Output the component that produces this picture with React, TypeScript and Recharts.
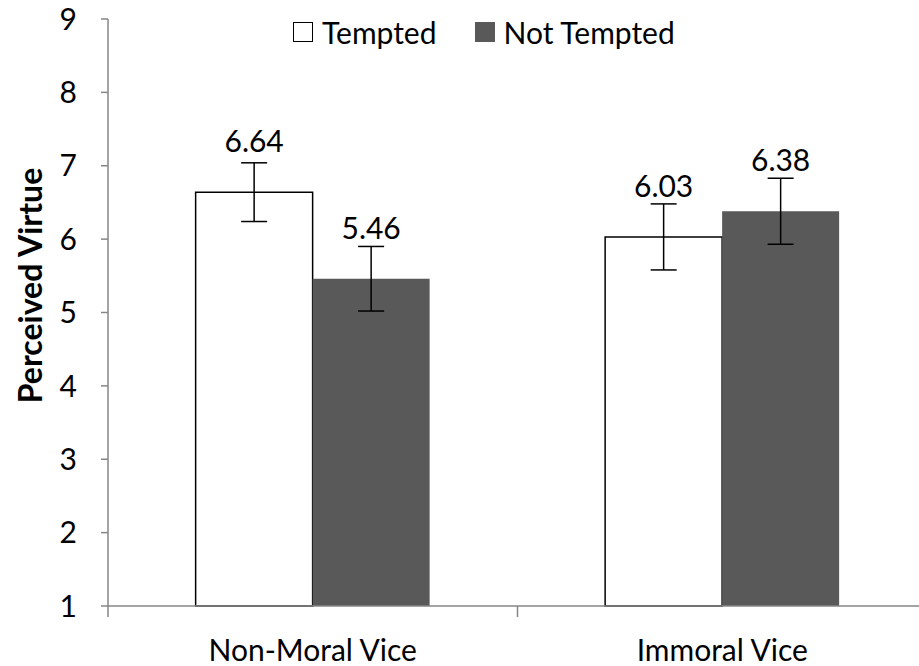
import React from 'react';
import {
  BarChart,
  Bar,
  XAxis,
  YAxis,
  Legend,
  ErrorBar,
  LabelList,
} from 'recharts';

const categories = ['Non-Moral Vice', 'Immoral Vice'];
const tempted = [6.64, 6.03];
const temptedErr = [0.4, 0.45];
const notTempted = [5.46, 6.38];
const notTemptedErr = [0.44, 0.45];
const yTicks = [1, 2, 3, 4, 5, 6, 7, 8, 9];
const seriesOrder = ['Tempted', 'Not Tempted'];

const data = categories.map((name, i) => ({
  name,
  tempted: tempted[i],
  temptedErr: temptedErr[i],
  notTempted: notTempted[i],
  notTemptedErr: notTemptedErr[i],
}));

const AXIS_GRAY = '#868686';
const FONT = 30;

const LegendContent = ({ payload }: any) => {
  const items = [...(payload || [])].sort(
    (a: any, b: any) => seriesOrder.indexOf(a.value) - seriesOrder.indexOf(b.value)
  );
  return (
    <div style={{ display: 'flex', alignItems: 'center', fontSize: FONT, lineHeight: 1 }}>
      {items.map((item: any, i: number) => {
        const outlined = item.value === 'Tempted';
        return (
          <div
            key={item.value}
            style={{ display: 'flex', alignItems: 'center', marginLeft: i === 0 ? 0 : 38 }}
          >
            <span
              style={{
                display: 'inline-block',
                width: 18,
                height: 18,
                background: outlined ? '#fff' : '#595959',
                border: outlined ? '1.5px solid #000' : '1.5px solid #595959',
                marginRight: 9,
              }}
            />
            <span>{item.value}</span>
          </div>
        );
      })}
    </div>
  );
};

// category tick: label in the middle, tick marks on the band edges (Excel style)
const CategoryTick = (props: any) => {
  const { x, y, payload, index, visibleTicksCount } = props;
  const half = payload && payload.offset ? payload.offset : 0;
  const top = y - 34;
  return (
    <g>
      <line x1={x - half} x2={x - half} y1={top} y2={top + 11} stroke={AXIS_GRAY} strokeWidth={1.5} />
      {index === visibleTicksCount - 1 && (
        <line x1={x + half} x2={x + half} y1={top} y2={top + 11} stroke={AXIS_GRAY} strokeWidth={1.5} />
      )}
      <text x={x} y={y} dy="0.71em" textAnchor="middle" fontSize={FONT} fill="#000">
        {payload.value}
      </text>
    </g>
  );
};

const YLabel = (props: any) => {
  const vb = props.viewBox || {};
  const x = vb.x + 29;
  const y = vb.y + vb.height / 2 - 27;
  return (
    <text
      x={x}
      y={y}
      transform={`rotate(-90, ${x}, ${y})`}
      textAnchor="middle"
      dominantBaseline="central"
      fontSize={32}
      fontWeight="bold"
      fill="#000"
    >
      Perceived Virtue
    </text>
  );
};

const App: React.FC = () => {
  return (
    <div
      style={{
        position: 'absolute',
        left: 0,
        top: 0,
        width: 919,
        height: 666,
        overflow: 'hidden',
        background: '#fff',
        fontFamily: 'Lato, sans-serif',
      }}
    >
      <BarChart
        width={940}
        height={666}
        data={data}
        margin={{ top: 19, right: 13, left: 0, bottom: 0 }}
        barCategoryGap="21.4%"
        barGap={0}
      >
        <XAxis
          dataKey="name"
          height={60}
          stroke={AXIS_GRAY}
          strokeWidth={1.5}
          tickLine={false}
          tickSize={0}
          tickMargin={34}
          interval={0}
          tick={<CategoryTick />}
        />
        <YAxis
          domain={[1, 9]}
          ticks={yTicks}
          interval={0}
          width={108}
          tickSize={7}
          tickMargin={24}
          stroke={AXIS_GRAY}
          strokeWidth={1.5}
          tick={{ fill: '#000', fontSize: FONT }}
          label={{ content: <YLabel /> } as any}
        />
        <Legend
          verticalAlign="middle"
          layout="horizontal"
          content={<LegendContent />}
          wrapperStyle={{ top: 17, left: 293, width: 'auto', height: 'auto' }}
        />
        <Bar
          dataKey="tempted"
          name="Tempted"
          fill="#ffffff"
          stroke="#000"
          strokeWidth={1.5}
          isAnimationActive={false}
        >
          <ErrorBar dataKey="temptedErr" width={13} stroke="#000" strokeWidth={1.5} />
          <LabelList
            dataKey="tempted"
            position="top"
            offset={40}
            fill="#000"
            fontSize={FONT}
            formatter={(v: any) => Number(v).toFixed(2)}
          />
        </Bar>
        <Bar dataKey="notTempted" name="Not Tempted" fill="#595959" isAnimationActive={false}>
          <ErrorBar dataKey="notTemptedErr" width={13} stroke="#000" strokeWidth={1.5} />
          <LabelList
            dataKey="notTempted"
            position="top"
            offset={40}
            fill="#000"
            fontSize={FONT}
            formatter={(v: any) => Number(v).toFixed(2)}
          />
        </Bar>
      </BarChart>
    </div>
  );
};

export default App;
